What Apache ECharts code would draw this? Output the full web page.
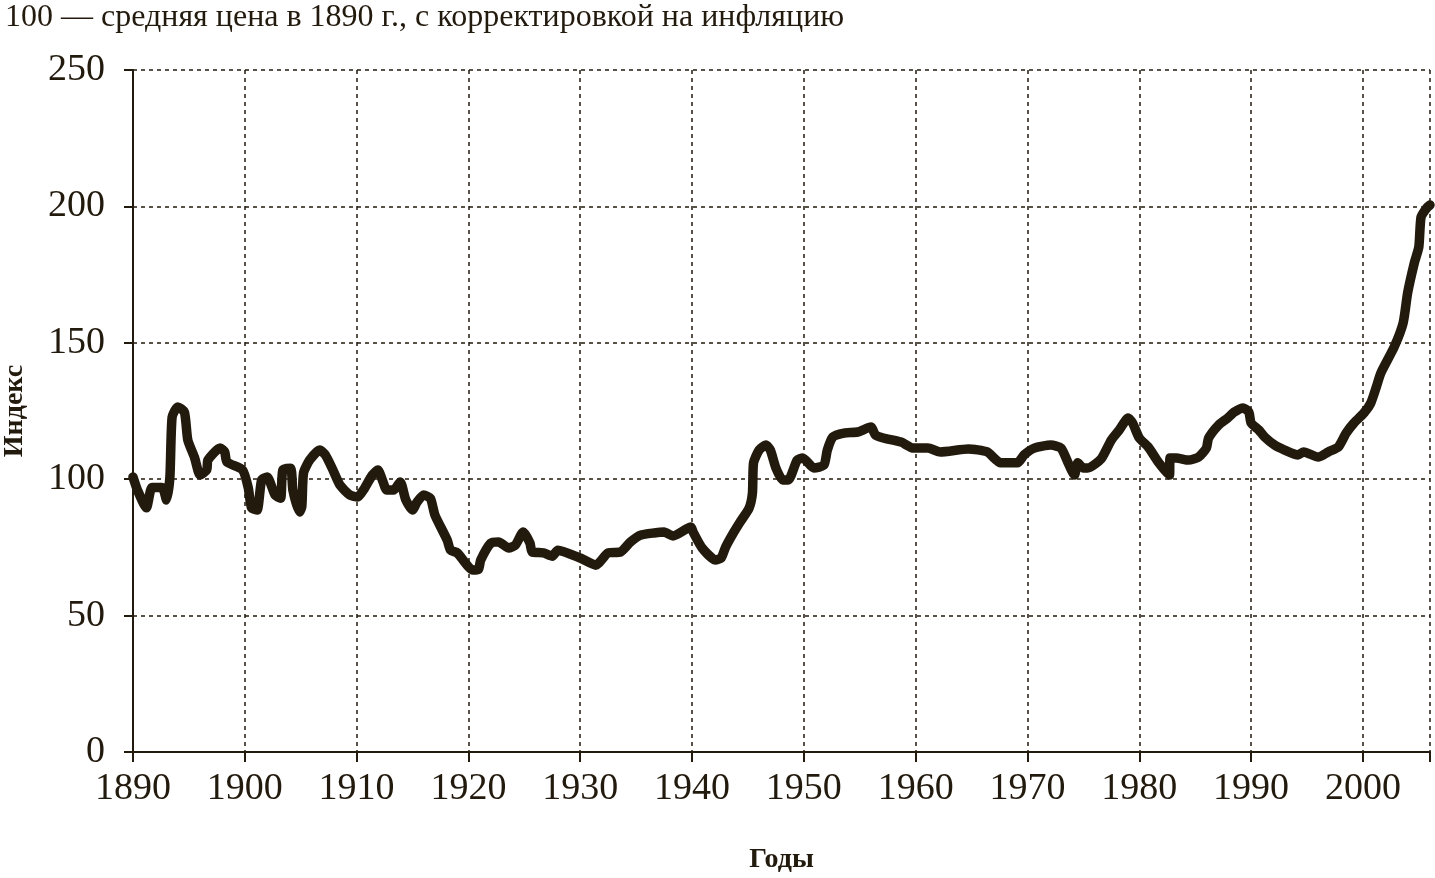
<!DOCTYPE html>
<html><head><meta charset="utf-8">
<script src="https://cdn.jsdelivr.net/npm/echarts@6/dist/echarts.min.js"></script>
<style>html,body{margin:0;padding:0;background:#fff}#c{width:1435px;height:878px}</style>
</head><body><div id="c"></div>
<script>
const titleText = "100 — средняя цена в 1890 г., с корректировкой на инфляцию";
const xName = "Годы";
const yName = "Индекс";
const years = [1890.0,1890.4,1891.2,1891.7,1892.6,1893.0,1893.3,1893.5,1894.0,1894.6,1894.9,1895.5,1896.0,1896.6,1896.7,1897.8,1898.2,1898.4,1899.8,1900.3,1900.6,1901.1,1901.5,1902.0,1902.7,1903.2,1903.4,1904.1,1904.3,1904.9,1905.1,1905.25,1905.8,1906.7,1907.2,1907.8,1908.5,1909.4,1910.1,1910.6,1911.4,1911.9,1912.3,1912.7,1913.3,1913.9,1914.4,1915.0,1915.4,1916.0,1916.6,1917.0,1918.1,1918.4,1919.0,1920.4,1920.9,1921.1,1922.0,1922.7,1923.6,1924.2,1924.9,1925.5,1925.7,1926.7,1927.5,1928.0,1930.0,1931.4,1932.5,1933.6,1934.5,1935.4,1936.6,1937.5,1938.3,1939.9,1940.1,1940.9,1942.1,1942.6,1943.0,1943.7,1944.3,1945.1,1945.4,1945.5,1946.0,1946.6,1947.0,1947.5,1948.1,1948.6,1949.4,1949.9,1950.9,1951.8,1952.1,1952.6,1953.6,1954.8,1956.0,1956.4,1957.1,1958.7,1959.8,1961.1,1962.2,1964.7,1966.4,1967.6,1969.1,1969.7,1970.6,1972.1,1973.0,1973.6,1974.2,1974.5,1975.0,1975.4,1976.6,1977.5,1978.2,1979.0,1979.4,1980.0,1980.8,1981.7,1982.7,1982.75,1983.3,1984.4,1985.3,1986.0,1986.2,1987.1,1987.9,1988.5,1989.3,1989.8,1990.0,1990.7,1991.2,1992.1,1993.0,1994.2,1994.7,1996.0,1996.9,1997.8,1998.5,1999.2,2000.1,2000.7,2001.2,2001.6,2002.8,2003.6,2004.0,2004.6,2005.0,2005.2,2005.7,2006.0];
const values = [100.8,96,89.5,97,97,92.4,100.8,122.8,126.5,124.6,114.4,108,101.5,103.4,107,111.4,110,106.3,103.4,97,89.5,88.7,99.7,100.8,94.2,93,103.4,104,96,88,90,102.3,107,110.7,108.9,104.1,97.9,94.2,93.5,96,101.5,103.4,99.7,96,96,99,92.4,88.7,91.6,94.2,93,86.9,77.7,74,73,66.7,67,70.4,76.6,77,74.8,75.9,80.6,76.6,73.3,73,71.8,74,71.1,68.5,73,73.3,77,79.5,80.3,80.6,79.2,82.5,80.6,74.8,70.4,71.1,75.1,80.3,84.3,89.4,94.9,106,110.7,112.5,110.7,104.1,99.7,99.7,107,107.8,104.1,105.2,110.7,115.5,116.9,117.3,119.1,116.2,115.1,113.6,111.4,111.4,110,111.1,110,106,106,108.9,111.4,112.5,111.4,106.3,101.5,106,104.1,104.1,107.5,114.4,118,122.4,120.6,115.1,111.8,106.3,101.5,107.8,107.8,107,108.1,111.4,115.1,119.9,122.4,124.6,126.1,124.6,120.6,118,115.5,112.5,110.7,108.9,110,108.1,110,111.8,116.9,120.6,124.3,127.9,133.8,138.9,148.5,157.3,168.3,179.3,185.1,196.1,199.4,200.5];
const xMin = 1890, xMax = 2006, xStep = 10;
const yMin = 0, yMax = 250, yStep = 50;

const ink = '#231a0e';
const font = '"Liberation Serif", "DejaVu Serif", serif';
const chart = echarts.init(document.getElementById('c'), null, {renderer: 'canvas'});
chart.setOption({
  backgroundColor: '#fff',
  animation: false,
  title: {
    text: titleText, left: 0, top: -3,
    textStyle: {fontFamily: font, fontSize: 32, fontWeight: 'normal', color: ink}
  },
  grid: {left: 133, right: 5, top: 70, bottom: 126, containLabel: false, outerBoundsMode: 'none'},
  xAxis: {
    type: 'value', min: xMin, max: xMax, interval: xStep,
    name: xName, nameLocation: 'middle', nameGap: 94,
    nameTextStyle: {fontFamily: font, fontSize: 28, fontWeight: 'bold', color: ink},
    axisLine: {show: true, lineStyle: {color: ink, width: 2}},
    axisTick: {show: true, length: 10, lineStyle: {color: ink, width: 2}},
    axisLabel: {fontFamily: font, fontSize: 38, color: ink, margin: 18,
      formatter: v => (v % 10 === 0 ? String(v) : '')},
    splitLine: {show: true, lineStyle: {color: ink, type: [4, 4], width: 1.5}}
  },
  yAxis: {
    type: 'value', min: yMin, max: yMax, interval: yStep,
    name: yName, nameLocation: 'middle', nameGap: 104, nameRotate: 90,
    nameTextStyle: {fontFamily: font, fontSize: 28, fontWeight: 'bold', color: ink},
    axisLine: {show: true, lineStyle: {color: ink, width: 2}},
    axisTick: {show: true, length: 9, lineStyle: {color: ink, width: 2}},
    axisLabel: {fontFamily: font, fontSize: 38, color: ink, margin: 28},
    splitLine: {show: true, lineStyle: {color: ink, type: [4, 4], width: 1.5}}
  },
  series: [{
    type: 'line',
    data: years.map((y, i) => [y, values[i]]),
    showSymbol: false,
    smooth: 0.2,
    lineStyle: {color: ink, width: 9.5, cap: 'round', join: 'round'},
    z: 5
  }]
});
</script></body></html>
